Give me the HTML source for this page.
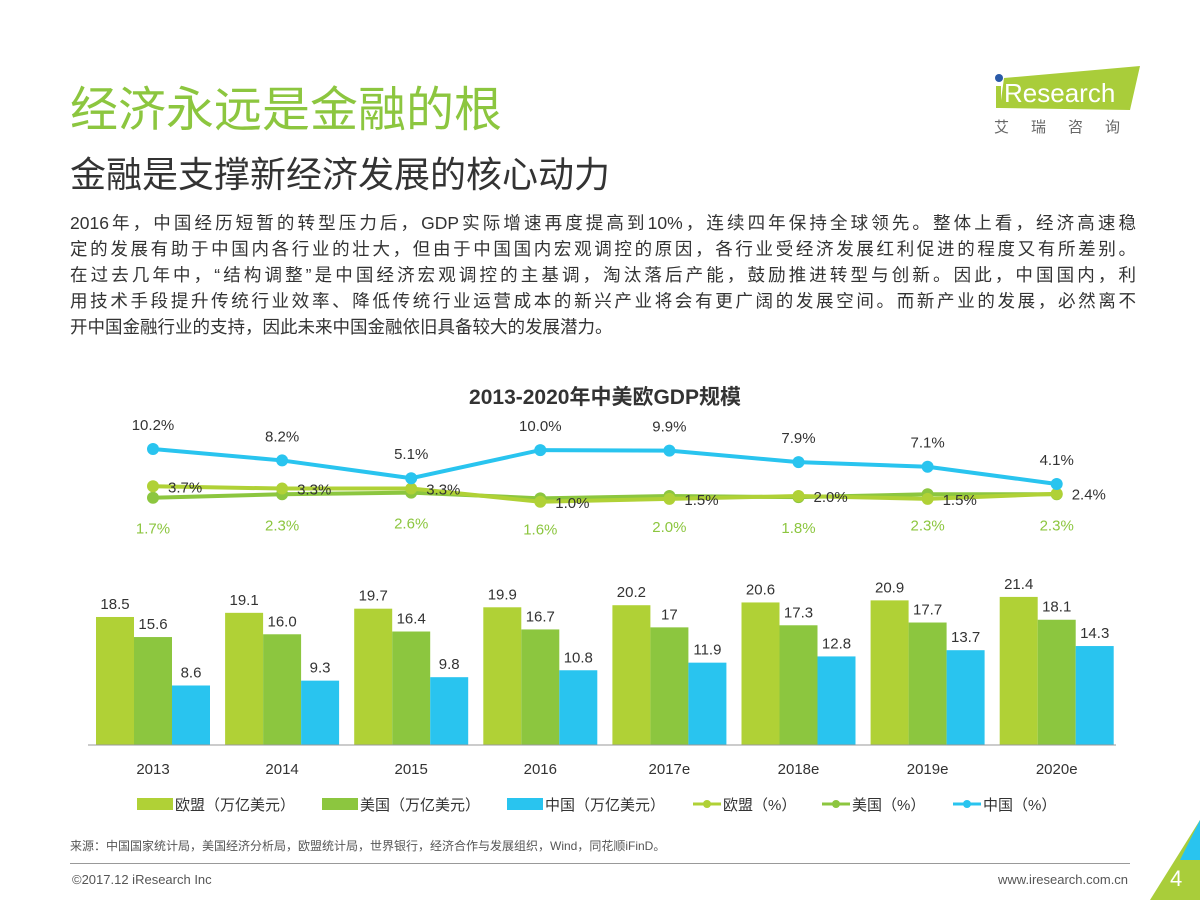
<!DOCTYPE html>
<html><head><meta charset="utf-8"><style>
body{margin:0;width:1200px;height:900px;background:#fff;font-family:"Liberation Sans","Noto Sans CJK SC",sans-serif;position:relative;overflow:hidden}
.a{position:absolute;white-space:nowrap}
.ln{text-align:justify;text-align-last:justify;white-space:nowrap;height:26px}
</style></head><body>
<div class="a" style="left:70px;top:70px;font-size:48px;color:#8cc63f">经济永远是金融的根</div>
<div class="a" style="left:70px;top:146px;font-size:36px;color:#333">金融是支撑新经济发展的核心动力</div>
<div class="a" style="left:990px;top:62px;width:160px;height:80px">
<svg width="160" height="80"><polygon points="14,16 150,4 140,48 10,46" fill="#a9cd3a"/><circle cx="9" cy="16" r="4" fill="#2a5aa8"/><rect x="6" y="24" width="5" height="22" fill="#a9cd3a"/>
<text x="14" y="40" font-size="26" fill="#fff" font-family="Liberation Sans">Research</text>
<text x="4" y="70" font-size="15" fill="#666" letter-spacing="22">艾瑞咨询</text></svg></div>
<div class="a" style="left:70px;top:210px;width:1066px;white-space:normal;font-size:17.5px;line-height:26px;color:#333">
<div class="ln">2016年，中国经历短暂的转型压力后，GDP实际增速再度提高到10%，连续四年保持全球领先。整体上看，经济高速稳</div>
<div class="ln">定的发展有助于中国内各行业的壮大，但由于中国国内宏观调控的原因，各行业受经济发展红利促进的程度又有所差别。</div>
<div class="ln">在过去几年中，“结构调整”是中国经济宏观调控的主基调，淘汰落后产能，鼓励推进转型与创新。因此，中国国内，利</div>
<div class="ln">用技术手段提升传统行业效率、降低传统行业运营成本的新兴产业将会有更广阔的发展空间。而新产业的发展，必然离不</div>
<div style="height:26px">开中国金融行业的支持，因此未来中国金融依旧具备较大的发展潜力。</div>
</div>
<div class="a" style="left:0;width:1210px;text-align:center;top:381px;font-size:21px;font-weight:bold;color:#333">2013-2020年中美欧GDP规模</div>
<svg class="a" id="chart" style="left:0;top:0" width="1200" height="900"></svg>
<div class="a" style="left:70px;top:837px;font-size:12px;color:#555">来源：中国国家统计局，美国经济分析局，欧盟统计局，世界银行，经济合作与发展组织，Wind，同花顺iFinD。</div>
<div class="a" style="left:70px;top:863px;width:1060px;height:1px;background:#999"></div>
<div class="a" style="left:72px;top:872px;font-size:13px;color:#555">©2017.12 iResearch Inc</div>
<div class="a" style="left:998px;top:872px;font-size:13px;color:#555">www.iresearch.com.cn</div>
<svg class="a" style="left:1150px;top:820px" width="50" height="80"><polygon points="50,0 50,80 0,80" fill="#a9cd3a"/><polygon points="50,0 50,40 30,40" fill="#29c4ef"/><text x="20" y="66" font-size="22" fill="#fff">4</text></svg>
<script>
const categories=["2013","2014","2015","2016","2017e","2018e","2019e","2020e"];
const euGdp=[18.5,19.1,19.7,19.9,20.2,20.6,20.9,21.4];
const usGdp=[15.6,16.0,16.4,16.7,17,17.3,17.7,18.1];
const cnGdp=[8.6,9.3,9.8,10.8,11.9,12.8,13.7,14.3];
const usGdpLabels=["15.6","16.0","16.4","16.7","17","17.3","17.7","18.1"];
const euPct=[3.7,3.3,3.3,1.0,1.5,2.0,1.5,2.4];
const usPct=[1.7,2.3,2.6,1.6,2.0,1.8,2.3,2.3];
const cnPct=[10.2,8.2,5.1,10.0,9.9,7.9,7.1,4.1];
const svg=document.getElementById('chart');const NS='http://www.w3.org/2000/svg';
function mk(t,a,txt){const e=document.createElementNS(NS,t);for(const k in a)e.setAttribute(k,a[k]);if(txt!==undefined)e.textContent=txt;svg.appendChild(e);return e;}
const cx=i=>153+i*129.1;const by=v=>745-v*6.92;const py=v=>507.5-v*5.74;
const cols=['#b0d136','#8cc63f','#29c4ef'];
const bars=[euGdp,usGdp,cnGdp];
bars.forEach((s,j)=>s.forEach((v,i)=>{const x=cx(i)-57+j*38;
const r=mk('rect',{x:x,y:by(v),width:38,height:745-by(v),fill:cols[j]});


const tx=mk('text',{x:x+19,y:by(v)-8,'text-anchor':'middle','font-size':15,fill:'#333'},j==1?usGdpLabels[i]:v.toFixed(1));

}));
mk('line',{x1:88,x2:1116,y1:745,y2:745,stroke:'#999'});
categories.forEach((c,i)=>{const t=mk('text',{x:cx(i),y:774,'text-anchor':'middle','font-size':15,fill:'#333'},c);

});
[[usPct,'#8cc63f'],[euPct,'#b0d136'],[cnPct,'#29c4ef']].forEach(([s,c],j)=>{
const p=mk('polyline',{points:s.map((v,i)=>cx(i)+','+py(v)).join(' '),fill:'none',stroke:c,'stroke-width':4});


s.forEach((v,i)=>{const d=mk('circle',{cx:cx(i),cy:py(v),r:6,fill:c});

});});
cnPct.forEach((v,i)=>{const t=mk('text',{x:cx(i),y:py(v)-19,'text-anchor':'middle','font-size':15,fill:'#333'},v.toFixed(1)+'%');

});
euPct.forEach((v,i)=>{const t=mk('text',{x:cx(i)+15,y:py(v)+6,'font-size':15,fill:'#333'},v.toFixed(1)+'%');

});
usPct.forEach((v,i)=>{const t=mk('text',{x:cx(i),y:py(v)+36,'text-anchor':'middle','font-size':15,fill:'#8cc63f'},v.toFixed(1)+'%');

});
const leg=[['欧盟（万亿美元）',cols[0],0,137],['美国（万亿美元）',cols[1],0,322],['中国（万亿美元）',cols[2],0,507],['欧盟（%）',cols[0],1,693],['美国（%）',cols[1],1,822],['中国（%）',cols[2],1,953]];
leg.forEach(([n,c,l,x])=>{if(l){mk('line',{x1:x,x2:x+28,y1:804,y2:804,stroke:c,'stroke-width':3});mk('circle',{cx:x+14,cy:804,r:4,fill:c});}
else mk('rect',{x:x,y:798,width:36,height:12,fill:c});
const t=mk('text',{x:x+(l?30:38),y:810,'font-size':15,fill:'#333'},n);

});
</script>
</body></html>
